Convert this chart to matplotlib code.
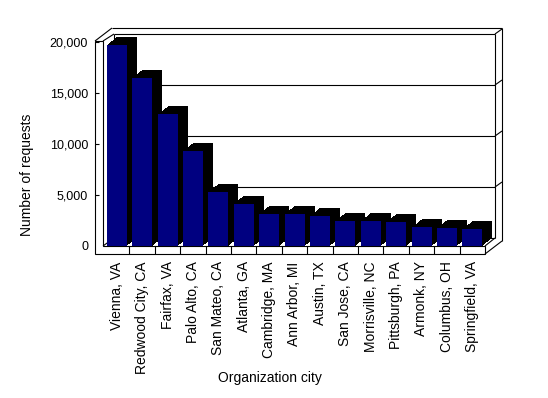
import numpy as np
import matplotlib
matplotlib.use('Agg')
import matplotlib.pyplot as plt
from matplotlib.patches import Polygon
from matplotlib.transforms import offset_copy

# datos del grafico
cities = ['Vienna, VA', 'Redwood City, CA', 'Fairfax, VA', 'Palo Alto, CA',
          'San Mateo, CA', 'Atlanta, GA', 'Cambridge, MA', 'Ann Arbor, MI',
          'Austin, TX', 'San Jose, CA', 'Morrisville, NC', 'Pittsburgh, PA',
          'Armonk, NY', 'Columbus, OH', 'Springfield, VA']
requests = [19700, 16500, 12900, 9300, 5300, 4150, 3150, 3150,
            2950, 2450, 2450, 2350, 1850, 1750, 1650]
yticks = [0, 5000, 10000, 15000, 20000]
ymax = 20000

plt.rcParams['font.family'] = ['Liberation Sans', 'DejaVu Sans']

# tamaño en pixeles y marco del grafico (y medido desde arriba)
W, H = 548, 398
X0, X1 = 104, 485      # plano frontal
YB, YT = 246, 42       # valor 0 y valor maximo
DX, DY = 10, 8         # profundidad de las barras / pared del fondo
OX, OY = 17, 13        # profundidad del marco exterior
T = 8                  # grosor de las paredes

def vy(v):
    return YB - (YB - YT) * v / ymax

fig = plt.figure(figsize=(W / 100, H / 100), dpi=100)
fig.patch.set_facecolor('white')

# ejes de fondo para dibujar la caja 3D en pixeles
bg = fig.add_axes([0, 0, 1, 1])
bg.set_xlim(0, W)
bg.set_ylim(H, 0)
bg.axis('off')

def line(xs, ys):
    bg.plot(xs, ys, color='black', lw=0.8, solid_capstyle='butt')

xl = X0 - T - 1          # borde exterior izquierdo
top = YT - 1             # parte de arriba de la pared izquierda
# pared del fondo
bg.add_patch(Polygon([(X0 + DX, YT - DY), (X1 + DX, YT - DY),
                      (X1 + DX, YB - DY), (X0 + DX, YB - DY)],
                     closed=True, facecolor='white', edgecolor='none'))
for v in yticks[1:]:
    line([X0 + DX, X1 + DX], [vy(v) - DY] * 2)
    line([X1 + DX, X1 + OX], [vy(v) - DY, vy(v) - DY - (OY - DY)])
line([X1 + DX, X1 + DX], [vy(ymax) - DY, YB - DY])
line([X0 + DX, X1 + DX], [YB - DY] * 2)
line([X0 + DX, X0 + DX], [vy(ymax) - DY, YB - DY])
# marco exterior
line([xl + OX, X1 + OX], [top - OY] * 2)
line([X1 + OX, X1 + OX], [top - OY, YB + T - OY])
line([xl, xl + OX], [top, top - OY])
line([X0 - 1, X0 + DX], [top, vy(ymax) - DY])
line([X1, X1 + OX], [YB + T, YB + T - OY])
line([X1, X1 + DX], [YB, YB - DY])
line([X0 - 1, X0 + DX], [YB, YB - DY])
# cara frontal en forma de L (pared izquierda + suelo)
bg.add_patch(Polygon([(xl, top), (X0 - 1, top), (X0 - 1, YB), (X1, YB),
                      (X1, YB + T), (xl, YB + T)],
                     closed=True, facecolor='white', edgecolor='black', lw=0.8))
step = (X1 - X0) / len(cities)
for i in range(1, len(cities)):
    line([X0 + i * step] * 2, [YB, YB + T])
for v in yticks[1:]:
    line([xl, xl + 4], [vy(v)] * 2)

# ejes de datos sobre el plano frontal
ax = fig.add_axes([X0 / W, (H - YB) / H, (X1 - X0) / W, (YB - YT) / H])
ax.patch.set_visible(False)
for s in ax.spines.values():
    s.set_visible(False)
x = np.arange(len(cities))
bw = 20 / step

# sombra negra: extrusion de la barra hacia el fondo
for t in np.linspace(0, 1, 21):
    tr = offset_copy(ax.transData, fig=fig, x=DX * t, y=DY * t, units='dots')
    sh = ax.bar(x, requests, width=bw, color='black', linewidth=0, zorder=1)
    for p in sh:
        p.set_transform(tr)
        p.set_clip_on(False)
ax.bar(x, requests, width=bw, color='#000080', linewidth=0, zorder=2)

ax.set_xlim(-0.5, len(cities) - 0.5)
ax.set_ylim(0, ymax)
ax.set_yticks(yticks, labels=[f'{v:,}' for v in yticks])
ax.set_xticks(x, labels=cities, rotation=90)
ax.tick_params(axis='y', length=0, pad=11.5, labelsize=9)
ax.tick_params(axis='x', length=0, pad=11, labelsize=10)

fig.text(27 / W, 1 - 175 / H, 'Number of requests', rotation=90,
         ha='center', va='center', fontsize=10)
fig.text(270 / W, 1 - 378 / H, 'Organization city',
         ha='center', va='center', fontsize=10)

fig.savefig('out.png', dpi=100)
